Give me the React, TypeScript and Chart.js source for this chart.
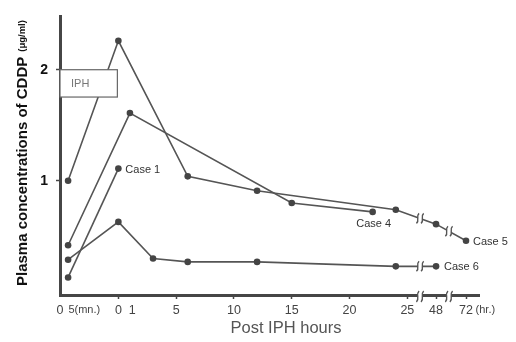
import React, { useEffect, useRef } from 'react';
import { Chart, registerables } from 'chart.js';

Chart.register(...registerables);

const FONT = '"Liberation Sans", Arial, Helvetica, sans-serif';

// ---- axis layout (axis units = hours for 0–25 h; compressed beyond the break) ----
const AXIS_START = -5.05;
const AXIS_END = 31.2;
const IPH_5MIN = 'IPH 5 min';
const IPH_5MIN_POS = -4.35;
const breakPos = (h: number) => 25 + (h - 25) * 0.108;
const toX = (t: number | string) =>
  t === IPH_5MIN ? IPH_5MIN_POS : (t as number) <= 25 ? (t as number) : breakPos(t as number);
const AXIS_BREAKS = [26.1, 28.6];

// ---- data ----
const case1Times: (number | string)[] = [IPH_5MIN, 0];
const case1Values = [0.13, 1.11];

const case4Times: (number | string)[] = [IPH_5MIN, 1, 15, 22];
const case4Values = [0.42, 1.61, 0.8, 0.72];

const case5Times: (number | string)[] = [IPH_5MIN, 0, 6, 12, 24, 48, 72];
const case5Values = [1.0, 2.26, 1.04, 0.91, 0.74, 0.61, 0.46];

const case6Times: (number | string)[] = [IPH_5MIN, 0, 3, 6, 12, 24, 48];
const case6Values = [0.29, 0.63, 0.3, 0.27, 0.27, 0.23, 0.23];

const caseNames = ['Case 1', 'Case 4', 'Case 5', 'Case 6'];

// ---- tick labels ----
const xTickValues = [AXIS_START, -2.95, 0, 1.2, 5, 10, 15, 20, 25, breakPos(48), breakPos(72), 31.75];
const xTickLabels = ['0', '5(mn.)', '0', '1', '5', '10', '15', '20', '25', '48', '72', '(hr.)'];
const xTickMarks = [false, false, true, false, true, true, true, true, true, true, true, false];
const yTickValues = [1, 2];

const IPH_BOX = { top: 2.0, bottom: 1.754, label: 'IPH' };

const LINE = '#555';
const AXIS = '#464646';

const series = [
  { times: case1Times, values: case1Values },
  { times: case4Times, values: case4Values },
  { times: case5Times, values: case5Values },
  { times: case6Times, values: case6Values },
];

// label placement relative to a point of each case: [pointIndex, dx, dy, align]
const labelPlacement: [number, number, number, CanvasTextAlign][] = [
  [1, 7, 1, 'left'],
  [3, 1, 12, 'center'],
  [6, 7, 1, 'left'],
  [6, 8, 1, 'left'],
];

function drawBreak(ctx: CanvasRenderingContext2D, x: number, y: number, h: number) {
  ctx.save();
  ctx.fillStyle = '#fff';
  ctx.fillRect(x - 2, y - h / 2, 4, h);
  ctx.strokeStyle = LINE;
  ctx.lineWidth = 1.4;
  for (const dx of [-2.3, 2.3]) {
    ctx.beginPath();
    ctx.moveTo(x + dx - 1.3, y + h / 2);
    ctx.bezierCurveTo(x + dx + 2.4, y + h / 6, x + dx - 2.4, y - h / 6, x + dx + 1.3, y - h / 2);
    ctx.stroke();
  }
  ctx.restore();
}

const decorPlugin = {
  id: 'decor',
  afterDatasetsDraw(chart: any) {
    const ctx: CanvasRenderingContext2D = chart.ctx;
    const xs = chart.scales.x;
    const ys = chart.scales.y;
    const area = chart.chartArea;

    // breaks on data lines
    chart.data.datasets.forEach((ds: any) => {
      const d = ds.data as { x: number; y: number }[];
      for (const b of AXIS_BREAKS) {
        for (let i = 0; i < d.length - 1; i++) {
          if (d[i].x < b && d[i + 1].x > b) {
            const y = d[i].y + ((b - d[i].x) / (d[i + 1].x - d[i].x)) * (d[i + 1].y - d[i].y);
            drawBreak(ctx, xs.getPixelForValue(b), ys.getPixelForValue(y), 10);
          }
        }
      }
    });

    // IPH box
    const bx0 = area.left;
    const bx1 = xs.getPixelForValue(0) - 1;
    const by0 = ys.getPixelForValue(IPH_BOX.top);
    const by1 = ys.getPixelForValue(IPH_BOX.bottom);
    ctx.save();
    ctx.fillStyle = '#fff';
    ctx.fillRect(bx0, by0, bx1 - bx0, by1 - by0);
    ctx.strokeStyle = '#666';
    ctx.lineWidth = 1.2;
    ctx.strokeRect(bx0, by0, bx1 - bx0, by1 - by0);
    ctx.fillStyle = '#777';
    ctx.font = `11px ${FONT}`;
    ctx.textAlign = 'left';
    ctx.textBaseline = 'middle';
    ctx.fillText(IPH_BOX.label, bx0 + 11, (by0 + by1) / 2 + 1);
    ctx.restore();

    // case labels
    ctx.save();
    ctx.fillStyle = '#333';
    ctx.font = `11px ${FONT}`;
    ctx.textBaseline = 'middle';
    series.forEach((s, i) => {
      const [pi, dx, dy, align] = labelPlacement[i];
      const px = xs.getPixelForValue(toX(s.times[pi]));
      const py = ys.getPixelForValue(s.values[pi]);
      ctx.textAlign = align;
      ctx.fillText(caseNames[i], px + dx, py + dy);
    });
    ctx.restore();
  },
  afterDraw(chart: any) {
    const ctx: CanvasRenderingContext2D = chart.ctx;
    const xs = chart.scales.x;
    const area = chart.chartArea;
    // axis breaks
    for (const b of AXIS_BREAKS) {
      drawBreak(ctx, xs.getPixelForValue(b), area.bottom + 1.5, 11);
    }
    // y title
    ctx.save();
    ctx.translate(23, 286);
    ctx.rotate(-Math.PI / 2);
    ctx.fillStyle = '#111';
    ctx.textAlign = 'left';
    ctx.textBaseline = 'middle';
    ctx.font = `bold 15px ${FONT}`;
    const main = 'Plasma concentrations of CDDP';
    ctx.fillText(main, 0, 0);
    const w = ctx.measureText(main).width;
    ctx.font = `bold 9.5px ${FONT}`;
    ctx.fillText('(μg/ml)', w + 5, -1);
    ctx.restore();
    // x title
    ctx.save();
    ctx.fillStyle = '#555';
    ctx.font = `16.5px ${FONT}`;
    ctx.textAlign = 'center';
    ctx.textBaseline = 'middle';
    ctx.fillText('Post IPH hours', 286, 328);
    ctx.restore();
  },
};

export default function App() {
  const ref = useRef<HTMLCanvasElement>(null);
  useEffect(() => {
    document.body.style.margin = '0';
    const datasets = series.map((s, i) => ({
      label: caseNames[i],
      data: s.times.map((t, j) => ({ x: toX(t), y: s.values[j] })),
      borderColor: LINE,
      backgroundColor: '#444',
      borderWidth: 1.6,
      pointRadius: 3.3,
      pointBorderWidth: 0,
      pointBackgroundColor: '#444',
      tension: 0,
    }));
    const chart = new Chart(ref.current!, {
      type: 'line',
      data: { datasets },
      options: {
        animation: false,
        responsive: false,
        devicePixelRatio: 1,
        layout: { padding: { top: 8, right: 37, left: 0, bottom: 0 } },
        plugins: { legend: { display: false }, tooltip: { enabled: false } },
        scales: {
          x: {
            type: 'linear',
            min: AXIS_START,
            max: AXIS_END,
            afterFit: (s: any) => {
              s.height = 47;
            },
            afterBuildTicks: (s: any) => {
              s.ticks = xTickValues.map((v) => ({ value: v }));
            },
            border: { display: true, width: 3, color: AXIS },
            grid: {
              drawOnChartArea: false,
              drawTicks: true,
              tickLength: 4,
              tickWidth: 1.5,
              tickColor: (c: any) => (xTickMarks[c.index] ? AXIS : 'rgba(0,0,0,0)'),
            },
            ticks: {
              autoSkip: false,
              maxRotation: 0,
              minRotation: 0,
              padding: 4,
              color: '#444',
              font: (c: any) => ({
                family: FONT,
                size: c.index === 1 || c.index === 11 ? 11 : 12.5,
              }),
              callback: (_v: any, i: number) => xTickLabels[i],
            },
          },
          y: {
            type: 'linear',
            min: -0.028,
            max: 2.48,
            afterFit: (s: any) => {
              s.width = 60;
            },
            afterBuildTicks: (s: any) => {
              s.ticks = yTickValues.map((v) => ({ value: v }));
            },
            border: { display: true, width: 3, color: AXIS },
            grid: {
              drawOnChartArea: false,
              drawTicks: true,
              tickLength: 4,
              tickWidth: 1.5,
              tickColor: AXIS,
            },
            ticks: {
              padding: 8,
              color: '#111',
              font: { family: FONT, size: 14, weight: 'bold' },
              callback: (v: any) => String(v),
            },
          },
        },
      },
      plugins: [decorPlugin],
    } as any);
    return () => chart.destroy();
  }, []);
  return (
    <div style={{ width: 516, height: 342 }}>
      <canvas ref={ref} width={516} height={342} />
    </div>
  );
}
